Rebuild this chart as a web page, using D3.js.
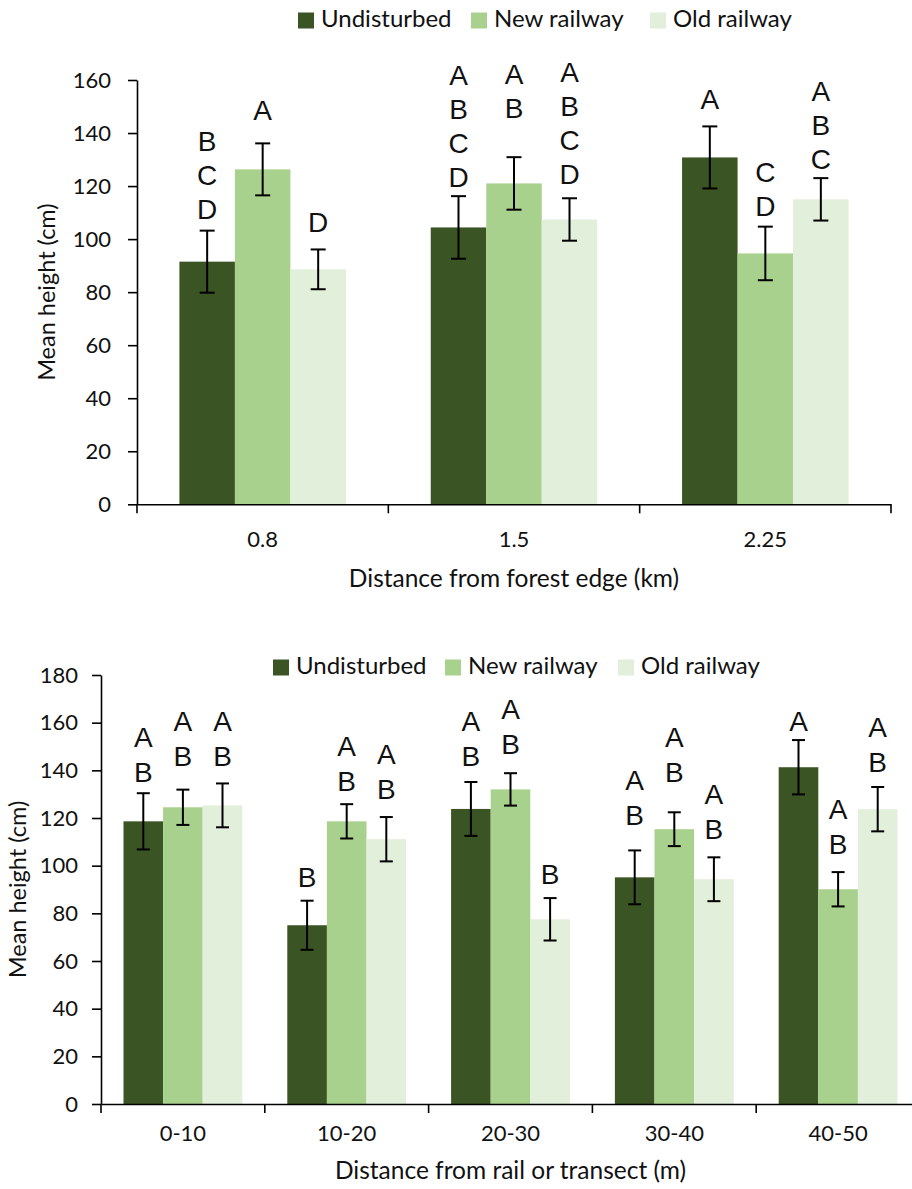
<!DOCTYPE html>
<html>
<head>
<meta charset="utf-8">
<script src="https://cdn.jsdelivr.net/npm/d3@7"></script>
<style>
  html, body { margin: 0; padding: 0; background: #fff; }
  svg { display: block; }
</style>
</head>
<body>
<svg id="chart" width="912" height="1189"></svg>
<script>
// ---------- DATA ----------
const seriesNames = ["Undisturbed", "New railway", "Old railway"];
const seriesColors = ["#3A5424", "#A9D18E", "#E2EFDA"];

// Panel 1: distance from forest edge (km)
const topCategories = ["0.8", "1.5", "2.25"];
const topYTicks = [0, 20, 40, 60, 80, 100, 120, 140, 160];
const topUndisturbed = [91.5, 104.4, 130.8];
const topNewRailway = [126.3, 121.0, 94.6];
const topOldRailway = [88.6, 107.4, 115.0];
const topUndisturbedErr = [11.7, 11.8, 11.7];
const topNewRailwayErr = [9.8, 9.9, 10.1];
const topOldRailwayErr = [7.5, 8.0, 8.0];
const topUndisturbedLetters = ["BCD", "ABCD", "A"];
const topNewRailwayLetters = ["A", "AB", "CD"];
const topOldRailwayLetters = ["D", "ABCD", "ABC"];
// height (cm) at which each letter group starts
const topUndisturbedLetterTop = [141.1, 165.7, 156.9];
const topNewRailwayLetterTop = [152.5, 166.3, 129.2];
const topOldRailwayLetterTop = [110.3, 166.9, 160.0];

// Panel 2: distance from rail or transect (m)
const bottomCategories = ["0-10", "10-20", "20-30", "30-40", "40-50"];
const bottomYTicks = [0, 20, 40, 60, 80, 100, 120, 140, 160, 180];
const bottomUndisturbed = [118.6, 75.0, 123.8, 95.1, 141.3];
const bottomNewRailway = [124.5, 118.6, 132.0, 115.3, 90.1];
const bottomOldRailway = [125.3, 111.1, 77.5, 94.3, 123.7];
const bottomUndisturbedErr = [11.8, 10.3, 11.3, 11.3, 11.4];
const bottomNewRailwayErr = [7.4, 7.2, 6.8, 7.1, 7.2];
const bottomOldRailwayErr = [9.2, 9.3, 8.9, 9.2, 9.3];
const bottomUndisturbedLetters = ["AB", "B", "AB", "AB", "A"];
const bottomNewRailwayLetters = ["AB", "AB", "AB", "AB", "AB"];
const bottomOldRailwayLetters = ["AB", "AB", "B", "AB", "AB"];
const bottomUndisturbedLetterTop = [158.3, 99.6, 165.3, 140.2, 165.3];
const bottomNewRailwayLetterTop = [165.3, 154.8, 170.2, 158.3, 128.3];
const bottomOldRailwayLetterTop = [165.3, 151.4, 101.0, 134.6, 162.5];

// ---------- DRAW ----------
const svg = d3.select("#chart");
const uiFont = "Lato, 'Open Sans', sans-serif";
const letterFont = "'Liberation Sans', Arial, sans-serif";

function buildRows(categories, vals, errs, letters, letterTops) {
  const rows = [];
  categories.forEach((c, i) => {
    seriesNames.forEach((s, j) => {
      rows.push({cat: c, series: s, value: vals[j][i], err: errs[j][i],
                 letters: letters[j][i], letterTop: letterTops[j][i], color: seriesColors[j]});
    });
  });
  return rows;
}

function drawPanel(cfg) {
  const g = svg.append("g");
  const x = d3.scaleBand().domain(cfg.categories).range([cfg.left, cfg.right]).padding(0);
  const xs = d3.scaleBand().domain(seriesNames).range([0, x.bandwidth()])
      .paddingInner(0).paddingOuter(cfg.outerPad);
  const y = d3.scaleLinear().domain([0, cfg.yMax]).range([cfg.bottom, cfg.top]);

  const rows = buildRows(cfg.categories, cfg.values, cfg.errs, cfg.letters, cfg.letterTops);

  // bars
  g.selectAll("rect.bar").data(rows).join("rect")
    .attr("class", "bar")
    .attr("x", d => x(d.cat) + xs(d.series))
    .attr("width", xs.bandwidth())
    .attr("y", d => y(d.value))
    .attr("height", d => y(0) - y(d.value))
    .attr("fill", d => d.color);

  // error bars
  const eb = g.selectAll("g.err").data(rows).join("g").attr("class", "err")
    .attr("stroke", "#000").attr("stroke-width", 2);
  const cx = d => x(d.cat) + xs(d.series) + xs.bandwidth() / 2;
  eb.append("line").attr("x1", cx).attr("x2", cx)
    .attr("y1", d => y(d.value + d.err)).attr("y2", d => y(d.value - d.err));
  eb.append("line").attr("x1", d => cx(d) - cfg.cap / 2).attr("x2", d => cx(d) + cfg.cap / 2)
    .attr("y1", d => y(d.value + d.err)).attr("y2", d => y(d.value + d.err));
  eb.append("line").attr("x1", d => cx(d) - cfg.cap / 2).attr("x2", d => cx(d) + cfg.cap / 2)
    .attr("y1", d => y(d.value - d.err)).attr("y2", d => y(d.value - d.err));

  // significance letters
  rows.forEach(d => {
    d.letters.split("").forEach((ch, k) => {
      g.append("text")
        .attr("x", cx(d))
        .attr("y", y(d.letterTop) + cfg.letterCap + k * cfg.letterStep)
        .attr("text-anchor", "middle")
        .attr("font-family", letterFont)
        .attr("font-size", cfg.letterSize)
        .attr("fill", "#111")
        .text(ch);
    });
  });

  // y axis
  const yAxis = g.append("g").attr("transform", `translate(${cfg.left},0)`)
    .call(d3.axisLeft(y).tickValues(cfg.yTicks).tickSize(9).tickSizeOuter(0).tickPadding(cfg.yPad));
  yAxis.selectAll("path, line").attr("stroke", "#000").attr("stroke-width", 1.6);
  yAxis.selectAll("text").attr("font-family", uiFont).attr("font-size", cfg.tickSize).attr("fill", "#111");

  // x axis (labels at centers, ticks at category boundaries)
  const xAxis = g.append("g").attr("transform", `translate(0,${cfg.bottom})`)
    .call(d3.axisBottom(x).tickSize(0).tickSizeOuter(0).tickPadding(cfg.xPad));
  xAxis.select("path").attr("stroke", "#000").attr("stroke-width", 1.6);
  xAxis.selectAll("text").attr("font-family", uiFont).attr("font-size", cfg.tickSize).attr("fill", "#111");
  const bounds = cfg.categories.map(c => x(c)).concat([x.range()[1]]);
  xAxis.selectAll("line.bound").data(bounds).join("line").attr("class", "bound")
    .attr("x1", d => d).attr("x2", d => d).attr("y1", 0).attr("y2", 9)
    .attr("stroke", "#000").attr("stroke-width", 1.6);

  // axis titles
  g.append("text")
    .attr("transform", `translate(${cfg.yTitleX},${(cfg.top + cfg.bottom) / 2}) rotate(-90)`)
    .attr("text-anchor", "middle").attr("dominant-baseline", "middle")
    .attr("font-family", uiFont).attr("font-size", cfg.yTitleSize).attr("fill", "#111")
    .text("Mean height (cm)");
  g.append("text")
    .attr("x", (cfg.left + cfg.right) / 2).attr("y", cfg.xTitleY)
    .attr("text-anchor", "middle").attr("dominant-baseline", "middle")
    .attr("font-family", uiFont).attr("font-size", cfg.titleSize).attr("fill", "#111")
    .text(cfg.xTitle);

  // legend
  const lg = g.append("g");
  seriesNames.forEach((s, j) => {
    const lx = cfg.legendX[j];
    lg.append("rect").attr("x", lx).attr("y", cfg.legendY - 8).attr("width", 16).attr("height", 16)
      .attr("fill", seriesColors[j]);
    lg.append("text").attr("x", lx + 23).attr("y", cfg.legendY)
      .attr("dominant-baseline", "middle")
      .attr("font-family", uiFont).attr("font-size", cfg.legendSize).attr("fill", "#111")
      .text(s);
  });
}

drawPanel({
  categories: topCategories,
  values: [topUndisturbed, topNewRailway, topOldRailway],
  errs: [topUndisturbedErr, topNewRailwayErr, topOldRailwayErr],
  letters: [topUndisturbedLetters, topNewRailwayLetters, topOldRailwayLetters],
  letterTops: [topUndisturbedLetterTop, topNewRailwayLetterTop, topOldRailwayLetterTop],
  yTicks: topYTicks, yMax: 160,
  left: 137, right: 891, top: 80, bottom: 504.3,
  outerPad: 0.764, cap: 15,
  letterSize: 28, letterCap: 20.5, letterStep: 34,
  yPad: 17, xPad: 27, tickSize: 22, titleSize: 24.5, yTitleSize: 23.5,
  yTitleX: 49, xTitleY: 581, xTitle: "Distance from forest edge (km)",
  legendX: [298, 471, 650], legendY: 20.5, legendSize: 24
});

drawPanel({
  categories: bottomCategories,
  values: [bottomUndisturbed, bottomNewRailway, bottomOldRailway],
  errs: [bottomUndisturbedErr, bottomNewRailwayErr, bottomOldRailwayErr],
  letters: [bottomUndisturbedLetters, bottomNewRailwayLetters, bottomOldRailwayLetters],
  letterTops: [bottomUndisturbedLetterTop, bottomNewRailwayLetterTop, bottomOldRailwayLetterTop],
  yTicks: bottomYTicks, yMax: 180,
  left: 101, right: 920, top: 675, bottom: 1104,
  outerPad: 0.568, cap: 13,
  letterSize: 28, letterCap: 20.5, letterStep: 35,
  yPad: 14, xPad: 21, tickSize: 22, titleSize: 24.5, yTitleSize: 23.5,
  yTitleX: 20, xTitleY: 1173, xTitle: "Distance from rail or transect (m)",
  legendX: [273, 445, 618], legendY: 667.5, legendSize: 24
});
</script>
</body>
</html>
